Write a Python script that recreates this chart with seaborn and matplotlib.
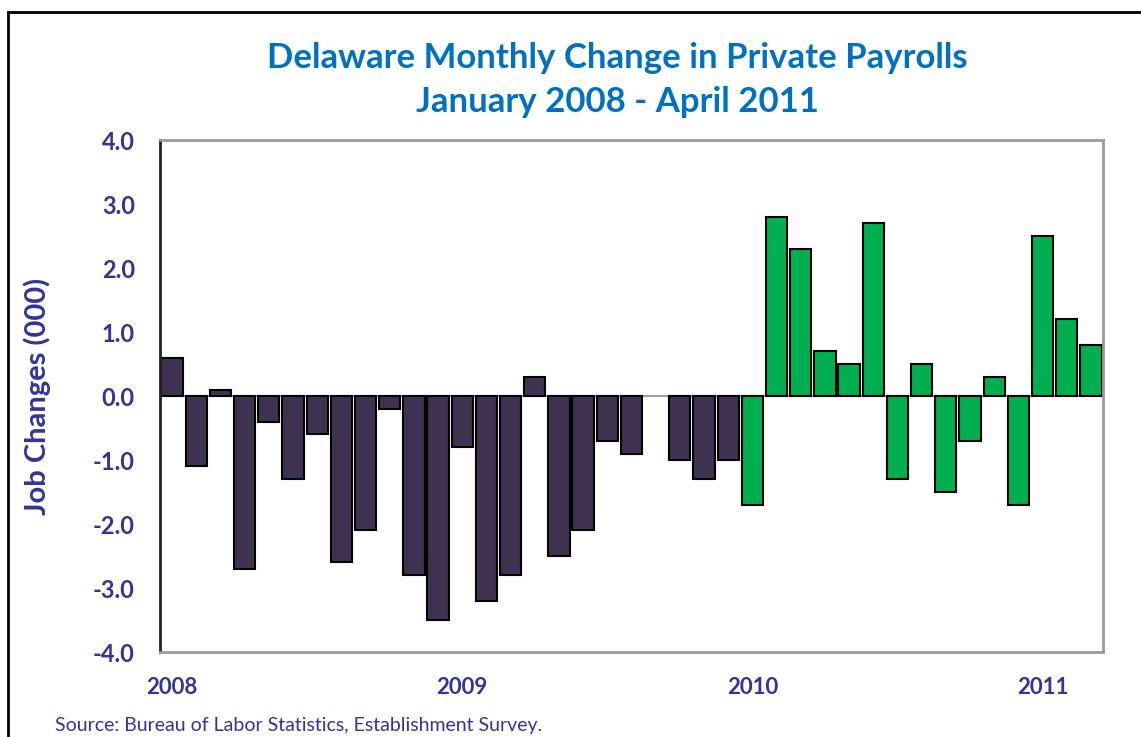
import numpy as np
import pandas as pd
import matplotlib
matplotlib.use('Agg')
from matplotlib import pyplot as plt
from matplotlib.patches import Rectangle
import seaborn as sns

sns.set_style('white')
plt.rcParams['font.family'] = ['Lato', 'DejaVu Sans']

# monthly change in private payrolls, thousands (Jan 2008 - Mar 2011)
months = pd.date_range('2008-01-01', periods=39, freq='MS').strftime('%Y-%m').tolist()
changes = [0.6, -1.1, 0.1, -2.7, -0.4, -1.3, -0.6, -2.6, -2.1, -0.2, -2.8, -3.5,
           -0.8, -3.2, -2.8, 0.3, -2.5, -2.1, -0.7, -0.9, np.nan, -1.0, -1.3, -1.0,
           -1.7, 2.8, 2.3, 0.7, 0.5, 2.7, -1.3, 0.5, -1.5, -0.7, 0.3, -1.7,
           2.5, 1.2, 0.8]
period = ['pre'] * 24 + ['post'] * 15
year_ticks = [0, 12, 24, 36]
year_labels = ['2008', '2009', '2010', '2011']

navy = '#333399'
df = pd.DataFrame({'month': months, 'change': changes, 'period': period})

fig = plt.figure(figsize=(11.41, 7.37), dpi=100)
ax = fig.add_axes([0.1402, 0.1153, 0.8265, 0.6947])

sns.barplot(data=df, x='month', y='change', hue='period', order=months,
            palette={'pre': '#3f3150', 'post': '#00b050'}, saturation=1,
            dodge=False, width=0.88, edgecolor='black', linewidth=1.5,
            legend=False, ax=ax)

ax.axhline(0, color='#a0a0a0', lw=1.5, zorder=0)
ax.set_ylim(-4, 4)
ax.set_xlim(-0.5, 38.5)
ax.set_yticks(np.arange(-4, 4.1, 1))
ax.set_yticklabels(['{:.1f}'.format(v) for v in np.arange(-4, 4.1, 1)])
ax.set_xticks(year_ticks)
ax.set_xticklabels(year_labels)
ax.tick_params(axis='y', direction='in', length=7, width=1.5, color='#555555',
               pad=18, labelsize=17, labelcolor=navy)
ax.tick_params(axis='x', length=0, pad=18, labelsize=16, labelcolor=navy)
for lab in ax.get_xticklabels() + ax.get_yticklabels():
    lab.set_fontweight('bold')
ax.set_xlabel('')
ax.set_ylabel('Job Changes (000)', fontsize=21, fontweight='bold', color=navy, labelpad=30)

for side in ['top', 'right', 'bottom']:
    ax.spines[side].set_color('#9a9a9a')
    ax.spines[side].set_linewidth(2)
ax.spines['left'].set_color('#222222')
ax.spines['left'].set_linewidth(2)

fig.text(0.541, 0.921, 'Delaware Monthly Change in Private Payrolls',
         ha='center', va='center', fontsize=25, fontweight='bold', color='#0070c0')
fig.text(0.541, 0.861, 'January 2008 - April 2011',
         ha='center', va='center', fontsize=25, fontweight='bold', color='#0070c0')
fig.text(0.048, 0.016, 'Source: Bureau of Labor Statistics, Establishment Survey.',
         ha='left', va='center', fontsize=14, color=navy)

# outer frame
fig.patches.append(Rectangle((8 / 1141, -0.1), 1.2, 1.1 - 12 / 737, transform=fig.transFigure,
                             fill=False, edgecolor='black', lw=2))

fig.savefig('out.png', dpi=100)
